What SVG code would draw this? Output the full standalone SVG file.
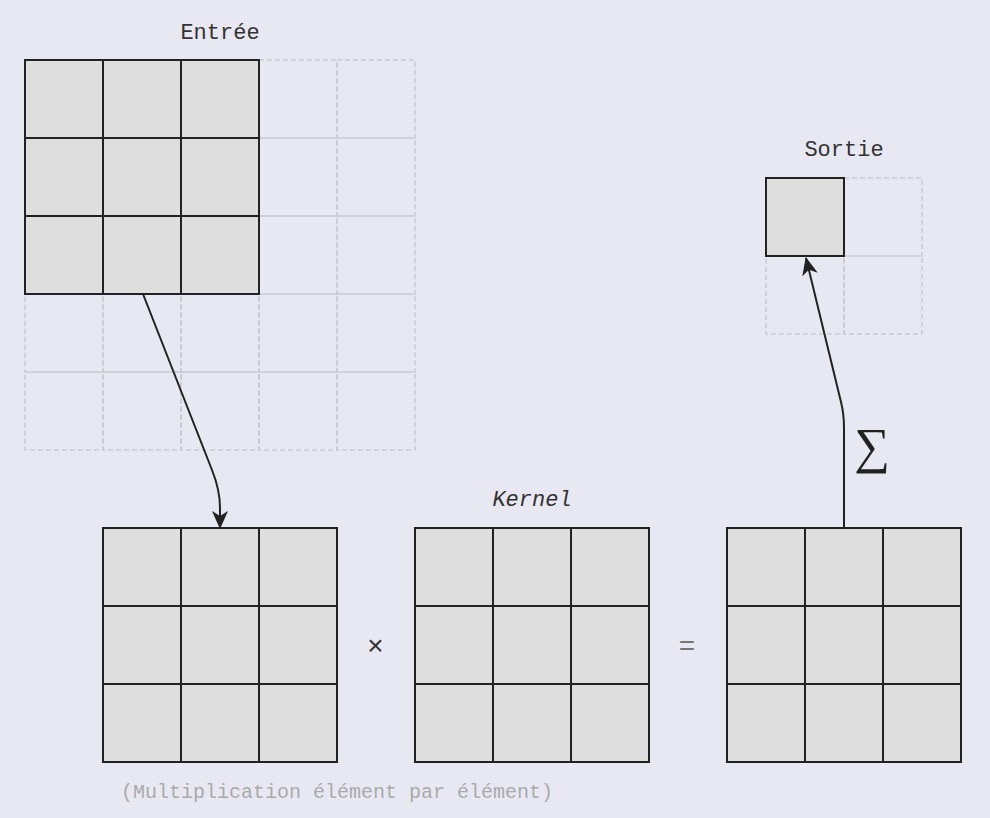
<svg xmlns="http://www.w3.org/2000/svg" width="990" height="818" viewBox="0 0 990 818">
<style>
.bg{fill:#e8e8f2}
.ghost{fill:none;stroke:#cacad2;stroke-width:1.5;stroke-dasharray:5 3}
.cell{fill:#dedede;stroke:#222;stroke-width:2}
.t{font-family:"Liberation Mono","DejaVu Sans Mono",monospace;font-size:22px;fill:#333;text-anchor:middle}
.cap{font-family:"Liberation Mono","DejaVu Sans Mono",monospace;font-size:20px;fill:#aaa;text-anchor:middle}
.op{font-family:"Liberation Sans","DejaVu Sans",sans-serif;font-size:28px;font-weight:300;text-anchor:middle}
.sig{font-family:"Liberation Serif","DejaVu Serif",serif;font-size:50px;fill:#222;text-anchor:middle}
.conn{fill:none;stroke:#222;stroke-width:2}
</style>
<defs>
<marker id="arr" viewBox="0 0 18 16" refX="17" refY="8" markerWidth="18" markerHeight="16" markerUnits="userSpaceOnUse" orient="auto">
<path d="M0,0 L18,8 L0,16 L5,8 z" fill="#222"/>
</marker>
<g id="ghostcell"><rect class="ghost" x="0" y="0" width="78" height="78"/></g>
<g id="c"><rect class="cell" x="0" y="0" width="78" height="78"/></g>
<g id="g3">
<use href="#c" x="0" y="0"/><use href="#c" x="78" y="0"/><use href="#c" x="156" y="0"/>
<use href="#c" x="0" y="78"/><use href="#c" x="78" y="78"/><use href="#c" x="156" y="78"/>
<use href="#c" x="0" y="156"/><use href="#c" x="78" y="156"/><use href="#c" x="156" y="156"/>
</g>
</defs>
<rect class="bg" x="0" y="0" width="990" height="818"/>

<g id="input">
<g id="input-ghost">
<use href="#ghostcell" x="25" y="60"/><use href="#ghostcell" x="103" y="60"/><use href="#ghostcell" x="181" y="60"/><use href="#ghostcell" x="259" y="60"/><use href="#ghostcell" x="337" y="60"/>
<use href="#ghostcell" x="25" y="138"/><use href="#ghostcell" x="103" y="138"/><use href="#ghostcell" x="181" y="138"/><use href="#ghostcell" x="259" y="138"/><use href="#ghostcell" x="337" y="138"/>
<use href="#ghostcell" x="25" y="216"/><use href="#ghostcell" x="103" y="216"/><use href="#ghostcell" x="181" y="216"/><use href="#ghostcell" x="259" y="216"/><use href="#ghostcell" x="337" y="216"/>
<use href="#ghostcell" x="25" y="294"/><use href="#ghostcell" x="103" y="294"/><use href="#ghostcell" x="181" y="294"/><use href="#ghostcell" x="259" y="294"/><use href="#ghostcell" x="337" y="294"/>
<use href="#ghostcell" x="25" y="372"/><use href="#ghostcell" x="103" y="372"/><use href="#ghostcell" x="181" y="372"/><use href="#ghostcell" x="259" y="372"/><use href="#ghostcell" x="337" y="372"/>
</g>
<use href="#g3" x="25" y="60"/>
<text class="t" x="220" y="39">Entrée</text>
</g>

<g id="output">
<use href="#ghostcell" x="766" y="178"/><use href="#ghostcell" x="844" y="178"/>
<use href="#ghostcell" x="766" y="256"/><use href="#ghostcell" x="844" y="256"/>
<use href="#c" x="766" y="178"/>
<text class="t" x="844" y="156">Sortie</text>
</g>

<g id="patch">
<use href="#g3" x="103" y="528"/>
</g>

<g id="kernel">
<use href="#g3" x="415" y="528"/>
<text class="t" x="532" y="506" font-style="italic">Kernel</text>
</g>

<g id="result">
<use href="#g3" x="727" y="528"/>
</g>

<g id="operators">
<text class="op" x="375.5" y="655" fill="#333">×</text>
<text class="op" x="687" y="655" fill="#777">=</text>
<text class="cap" x="337" y="798">(Multiplication élément par élément)</text>
</g>

<g id="connectors">
<path class="conn" d="M143,294 L212,470 Q220,490 220,508 L220,528" marker-end="url(#arr)"/>
<path class="conn" d="M844,528 L844,428 Q844,414 841,402 L806,258" marker-end="url(#arr)"/>
<text class="sig" x="872" y="463">∑</text>
</g>
</svg>
